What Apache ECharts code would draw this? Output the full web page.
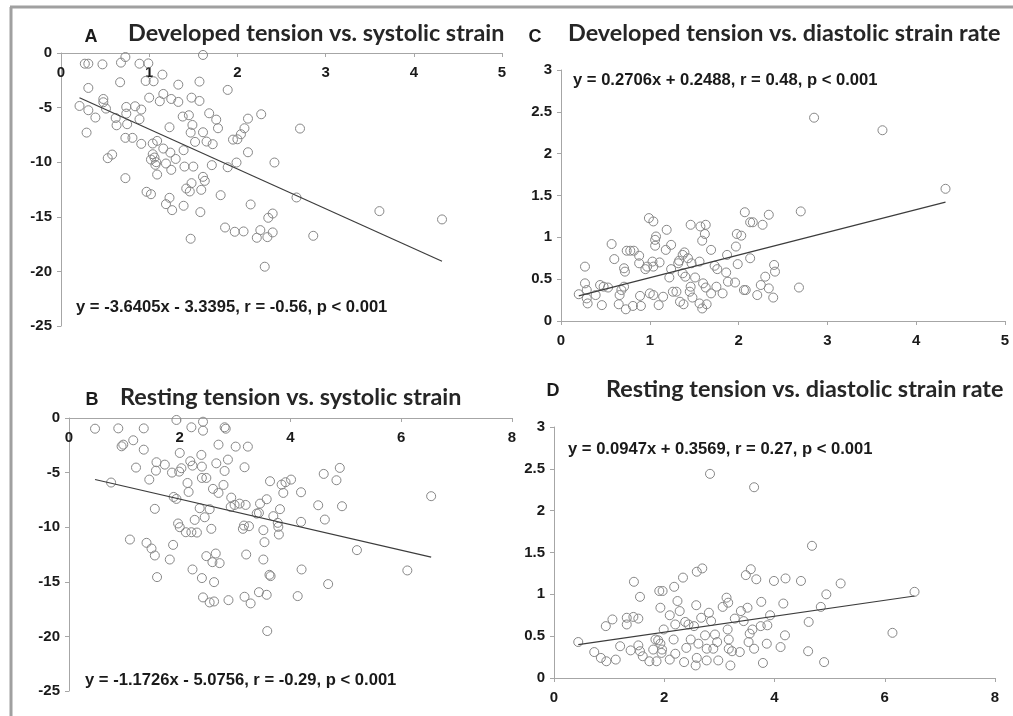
<!DOCTYPE html>
<html>
<head>
<meta charset="utf-8">
<script src="https://cdn.jsdelivr.net/npm/echarts@6/dist/echarts.min.js"></script>
<style>
  html, body { margin: 0; padding: 0; background: #fff; }
  #chart { width: 1013px; height: 716px; }
</style>
</head>
<body>
<div id="chart"></div>
<script>
// A: developed tension (x) vs systolic strain (y)
var aDevTension = [0.27,0.31,0.47,0.68,0.73,0.89,0.99,1.61,0.67,0.31,
  0.96,1.05,1.15,1.33,1.57,1.89,0.48,0.48,1.00,1.12,
  1.16,1.25,1.33,1.48,1.57,0.21,0.31,0.39,0.51,0.62,
  0.74,0.74,0.84,0.91,0.89,0.63,0.75,0.29,1.23,1.38,
  1.45,1.49,1.47,1.61,1.68,1.76,1.78,1.95,2.00,2.04,
  2.08,2.12,2.27,2.71,0.73,0.81,0.91,1.04,1.09,1.04,
  1.06,1.02,1.08,1.16,1.24,1.30,1.39,1.52,1.65,1.72,
  0.58,0.53,1.99,2.12,2.42,1.19,1.40,1.50,1.25,1.71,
  1.89,1.09,0.73,1.61,1.63,1.48,1.59,1.42,1.46,0.97,
  1.02,1.23,1.19,1.26,1.81,1.39,1.58,2.15,2.40,2.67,
  2.35,3.61,4.32,1.86,1.97,2.07,2.22,2.26,2.34,2.40,
  1.47,2.86,2.31,1.07];
var aSysStrain = [-0.98,-0.98,-1.04,-0.88,-0.37,-0.98,-0.95,-0.18,-2.68,-3.20,
  -2.56,-2.59,-1.98,-2.90,-2.62,-3.38,-4.21,-4.51,-4.09,-4.42,
  -3.75,-4.21,-4.48,-4.09,-4.39,-4.85,-5.24,-5.91,-5.09,-5.95,
  -4.94,-5.55,-4.88,-5.18,-6.07,-6.62,-6.52,-7.29,-6.80,-5.82,
  -5.70,-6.59,-7.29,-7.26,-5.52,-6.10,-6.89,-7.93,-7.90,-7.44,
  -6.89,-6.01,-5.61,-6.92,-7.77,-7.77,-8.32,-8.29,-8.05,-9.27,
  -9.57,-9.76,-10.00,-8.75,-9.12,-9.70,-8.90,-8.14,-8.11,-8.35,
  -9.30,-9.63,-10.03,-9.09,-10.03,-10.12,-10.40,-10.40,-10.70,-10.27,
  -10.46,-11.13,-11.46,-11.34,-11.71,-11.92,-12.53,-12.41,-12.68,-12.71,
  -12.93,-13.26,-13.84,-14.39,-13.02,-13.99,-14.57,-13.87,-14.70,-13.23,
  -15.09,-14.48,-15.24,-15.98,-16.37,-16.34,-16.92,-16.22,-16.86,-16.43,
  -17.01,-16.74,-19.57,-10.24];

// B: resting tension (x) vs systolic strain (y)
var bRestTension = [0.47,0.89,1.35,1.94,2.21,2.42,2.42,2.81,2.83,0.95,
  0.98,1.16,1.35,1.21,1.45,0.76,2.00,1.58,1.73,1.57,
  1.86,1.99,2.03,2.19,2.23,2.39,2.40,2.40,2.48,2.70,
  2.66,2.81,2.87,3.01,3.23,3.17,2.14,2.16,2.60,2.70,
  2.79,2.93,2.99,3.08,2.92,3.19,2.36,2.54,2.45,2.27,
  1.89,1.94,1.97,2.00,2.11,2.21,2.31,2.57,1.55,1.10,
  1.40,1.49,1.55,1.88,1.82,2.23,1.59,2.40,2.48,2.59,
  2.65,2.72,2.62,2.42,2.54,2.62,2.88,3.17,3.28,3.20,
  3.14,3.16,3.25,3.39,3.43,3.45,3.57,3.63,3.84,3.91,
  4.01,3.87,3.81,3.69,3.77,3.78,3.79,3.51,3.53,3.51,
  3.62,3.64,3.43,3.57,3.58,4.19,4.19,4.20,4.13,4.50,
  4.62,4.60,4.83,4.89,4.93,4.68,5.20,6.11,6.54];
var bSysStrain = [-0.98,-0.95,-0.95,-0.18,-0.85,-0.34,-1.16,-0.85,-0.98,-2.59,
  -2.44,-2.04,-2.90,-4.54,-5.64,-5.91,-3.20,-4.05,-4.27,-4.82,
  -5.00,-4.91,-4.60,-3.96,-4.36,-3.38,-4.45,-5.49,-5.49,-2.44,
  -4.15,-4.85,-3.81,-2.62,-2.62,-4.51,-5.95,-6.77,-6.49,-6.86,
  -6.13,-7.29,-7.96,-7.84,-8.14,-7.96,-8.26,-8.35,-9.09,-9.33,
  -7.23,-7.41,-9.66,-10.00,-10.46,-10.46,-10.49,-10.15,-8.32,-11.13,
  -11.43,-11.95,-12.59,-11.62,-12.96,-13.87,-14.57,-14.66,-12.65,-13.20,
  -12.41,-13.29,-15.03,-16.43,-16.89,-16.80,-16.68,-16.37,-16.98,-12.50,
  -10.15,-9.85,-9.91,-8.75,-8.69,-7.84,-7.44,-5.79,-6.10,-5.88,
  -5.64,-6.86,-8.35,-8.99,-9.60,-9.97,-10.67,-10.27,-11.37,-12.96,
  -14.36,-14.48,-15.95,-16.19,-19.51,-6.80,-9.51,-13.87,-16.31,-7.99,
  -9.30,-5.12,-5.70,-4.57,-8.08,-15.21,-12.10,-13.96,-7.16];

// C: developed tension (x) vs diastolic strain rate (y)
var cDevTension = [0.20,0.27,0.27,0.29,0.29,0.30,0.39,0.44,0.48,0.53,
  0.46,0.57,0.60,0.66,0.65,0.68,0.71,0.71,0.72,0.73,
  0.74,0.78,0.82,0.81,0.88,0.88,0.90,0.89,0.95,0.97,
  0.99,1.04,1.06,1.06,1.04,1.03,1.07,1.11,1.00,1.04,
  1.10,1.15,1.18,1.19,1.24,1.22,1.24,1.26,1.30,1.33,
  1.37,1.37,1.38,1.40,1.43,1.46,1.47,1.46,1.48,1.51,
  1.57,1.59,1.62,1.63,1.56,1.56,1.59,1.60,1.63,1.64,
  1.69,1.69,1.73,1.76,1.75,1.82,1.86,1.87,1.88,1.96,
  1.97,1.98,1.99,2.03,2.07,2.06,2.08,2.13,2.13,2.16,
  2.27,2.25,2.21,2.30,2.34,2.34,2.39,2.40,2.41,2.70,
  2.68,2.85,3.62,4.33,1.39,1.32,1.34,1.45];
var cDiaStrainRate = [0.32,0.65,0.45,0.37,0.27,0.21,0.31,0.43,0.41,0.40,
  0.19,0.92,0.74,0.31,0.20,0.37,0.41,0.63,0.59,0.14,
  0.84,0.84,0.84,0.18,0.78,0.69,0.18,0.30,0.62,0.65,
  1.23,1.19,0.97,0.90,0.65,0.71,1.01,0.70,0.33,0.31,
  0.19,0.29,0.85,1.09,0.91,0.52,0.62,0.35,0.35,0.72,
  0.57,0.79,0.20,0.53,0.75,1.15,0.69,0.41,0.28,0.52,
  1.13,0.96,1.04,1.15,0.71,0.21,0.15,0.45,0.40,0.20,
  0.85,0.33,0.66,0.62,0.41,0.33,0.58,0.79,0.47,0.46,
  0.89,1.04,0.68,1.02,1.30,0.37,0.37,0.75,1.18,1.18,
  1.15,0.43,0.31,0.53,1.27,0.39,0.28,0.67,0.59,1.31,
  0.40,2.43,2.28,1.58,0.82,0.69,0.23,0.35];

// D: resting tension (x) vs diastolic strain rate (y)
var dRestTension = [0.44,0.73,0.85,0.95,1.12,0.94,1.06,1.20,1.32,1.32,
  1.39,1.44,1.53,1.45,1.56,1.53,1.56,1.61,1.73,1.80,
  1.86,1.91,1.97,1.93,1.84,1.89,1.93,1.96,1.95,1.99,
  2.10,2.10,2.18,2.20,2.17,2.20,2.24,2.28,2.34,2.36,
  2.38,2.40,2.44,2.48,2.54,2.58,2.59,2.62,2.59,2.57,
  2.69,2.67,2.74,2.77,2.77,2.81,2.85,2.83,2.92,2.89,
  2.98,2.96,3.06,3.13,3.16,3.15,3.17,3.17,3.20,3.23,
  3.28,3.37,3.39,3.44,3.48,3.51,3.53,3.57,3.60,3.55,
  3.63,3.63,3.67,3.75,3.76,3.79,3.86,3.87,3.92,3.99,
  4.11,4.16,4.19,4.20,4.48,4.61,4.62,4.68,4.84,4.90,
  4.94,5.20,6.14,6.54];
var dDiaStrainRate = [0.43,0.31,0.24,0.20,0.22,0.62,0.70,0.38,0.72,0.64,
  0.33,0.73,0.71,1.15,0.97,0.39,0.32,0.26,0.20,0.34,
  0.20,1.04,1.04,0.84,0.46,0.45,0.41,0.34,0.30,0.58,
  0.75,0.22,1.09,0.64,0.46,0.29,0.92,0.80,1.20,0.19,
  0.67,0.36,0.64,0.46,0.62,0.87,1.27,0.41,0.24,0.15,
  1.31,0.72,0.51,0.35,0.21,0.78,0.68,2.44,0.52,0.35,
  0.21,0.43,0.85,0.96,0.90,0.58,0.46,0.35,0.15,0.32,
  0.71,0.31,0.80,0.68,1.23,0.84,0.43,1.30,0.58,0.53,
  0.35,2.28,1.18,0.62,0.91,0.18,0.41,0.63,0.75,1.16,
  0.37,0.89,0.51,1.19,1.16,0.32,0.67,1.58,0.85,0.19,
  1.00,1.13,0.54,1.03];

// trend line end points (as drawn, at the min / max x of each panel)
var aTrend = [[0.21, -4.10], [4.32, -19.07]];
var bTrend = [[0.47, -5.63], [6.54, -12.74]];
var cTrend = [[0.20, 0.30], [4.33, 1.42]];
var dTrend = [[0.44, 0.40], [6.54, 0.98]];

var panelLetters = ['A', 'B', 'C', 'D'];
var panelTitles = [
  'Developed tension vs. systolic strain',
  'Resting tension vs. systolic strain',
  'Developed tension vs. diastolic strain rate',
  'Resting tension vs. diastolic strain rate'
];
var equations = [
  'y = -3.6405x - 3.3395, r = -0.56, p < 0.001',
  'y = -1.1726x - 5.0756, r = -0.29, p < 0.001',
  'y = 0.2706x + 0.2488, r = 0.48, p < 0.001',
  'y = 0.0947x + 0.3569, r = 0.27, p < 0.001'
];

function zip(xs, ys) {
  return xs.map(function (x, i) { return [x, ys[i]]; });
}

var axisGray = '#a6a6a6';
var labelFont = { color: '#1a1a1a', fontWeight: 'bold', fontSize: 15, fontFamily: 'Liberation Sans, Arial, sans-serif' };

// top = x axis drawn along y = 0 at the top of a negative-valued panel
function xAxis(gi, max, interval, top) {
  return {
    gridIndex: gi, type: 'value', min: 0, max: max, interval: interval,
    position: top ? 'top' : 'bottom',
    axisLine: { show: true, onZero: false, lineStyle: { color: axisGray, width: 1 } },
    axisTick: { show: true, length: 4, inside: !!top, lineStyle: { color: axisGray } },
    axisLabel: Object.assign({ margin: 12, inside: !!top }, labelFont),
    splitLine: { show: false }
  };
}
function yAxis(gi, min, max, interval) {
  return {
    gridIndex: gi, type: 'value', min: min, max: max, interval: interval,
    axisLine: { show: true, onZero: false, lineStyle: { color: axisGray, width: 1 } },
    axisTick: { show: true, length: 4, lineStyle: { color: axisGray } },
    axisLabel: Object.assign({ margin: 9 }, labelFont),
    splitLine: { show: false }
  };
}

function scatter(gi, data) {
  return {
    type: 'scatter', xAxisIndex: gi, yAxisIndex: gi, data: data,
    symbol: 'circle', symbolSize: 9,
    itemStyle: { color: 'rgba(255,255,255,0)', borderColor: '#878787', borderWidth: 1, opacity: 1 },
    silent: true
  };
}
function trend(gi, data) {
  return {
    type: 'line', xAxisIndex: gi, yAxisIndex: gi, data: data,
    symbol: 'none', lineStyle: { color: '#3c3c3c', width: 1.2 }, silent: true, z: 3
  };
}

// text positions: [letterX, letterY, titleX, titleY, eqX, eqY]
var textPos = [
  [91, 37, 128, 33, 76, 307],
  [92, 400, 120, 397, 85, 680],
  [535, 37, 568, 33, 573, 80],
  [553, 391, 606, 389, 568, 449]
];

var graphics = [
  { type: 'line', shape: { x1: 10, y1: 7, x2: 1013, y2: 7 }, style: { stroke: '#a0a0a0', lineWidth: 3 } },
  { type: 'line', shape: { x1: 11, y1: 7, x2: 11, y2: 716 }, style: { stroke: '#a0a0a0', lineWidth: 3 } }
];
textPos.forEach(function (p, i) {
  graphics.push({ type: 'text', style: { text: panelLetters[i], x: p[0], y: p[1], textAlign: 'center', textVerticalAlign: 'middle', verticalAlign: 'middle', font: 'bold 18px "Liberation Sans", Arial, sans-serif', fill: '#1a1a1a' } });
  graphics.push({ type: 'text', style: { text: panelTitles[i], x: p[2], y: p[3], textAlign: 'left', textVerticalAlign: 'middle', verticalAlign: 'middle', font: 'bold 23.4px Lato, "Open Sans", sans-serif', fill: '#262626' } });
  graphics.push({ type: 'text', style: { text: equations[i], x: p[4], y: p[5], textAlign: 'left', textVerticalAlign: 'middle', verticalAlign: 'middle', font: 'bold 16.6px "Liberation Sans", Arial, sans-serif', fill: '#1a1a1a' } });
});

var chart = echarts.init(document.getElementById('chart'), null, { renderer: 'canvas' });
chart.setOption({
  animation: false,
  backgroundColor: '#ffffff',
  grid: [
    { left: 61, top: 53, width: 441, height: 273 },
    { left: 69, top: 418, width: 443, height: 273 },
    { left: 561, top: 70, width: 444, height: 251 },
    { left: 554, top: 427, width: 441, height: 251 }
  ],
  xAxis: [xAxis(0, 5, 1, true), xAxis(1, 8, 2, true), xAxis(2, 5, 1, false), xAxis(3, 8, 2, false)],
  yAxis: [yAxis(0, -25, 0, 5), yAxis(1, -25, 0, 5), yAxis(2, 0, 3, 0.5), yAxis(3, 0, 3, 0.5)],
  series: [
    scatter(0, zip(aDevTension, aSysStrain)), trend(0, aTrend),
    scatter(1, zip(bRestTension, bSysStrain)), trend(1, bTrend),
    scatter(2, zip(cDevTension, cDiaStrainRate)), trend(2, cTrend),
    scatter(3, zip(dRestTension, dDiaStrainRate)), trend(3, dTrend)
  ],
  graphic: graphics
});
</script>
</body>
</html>
